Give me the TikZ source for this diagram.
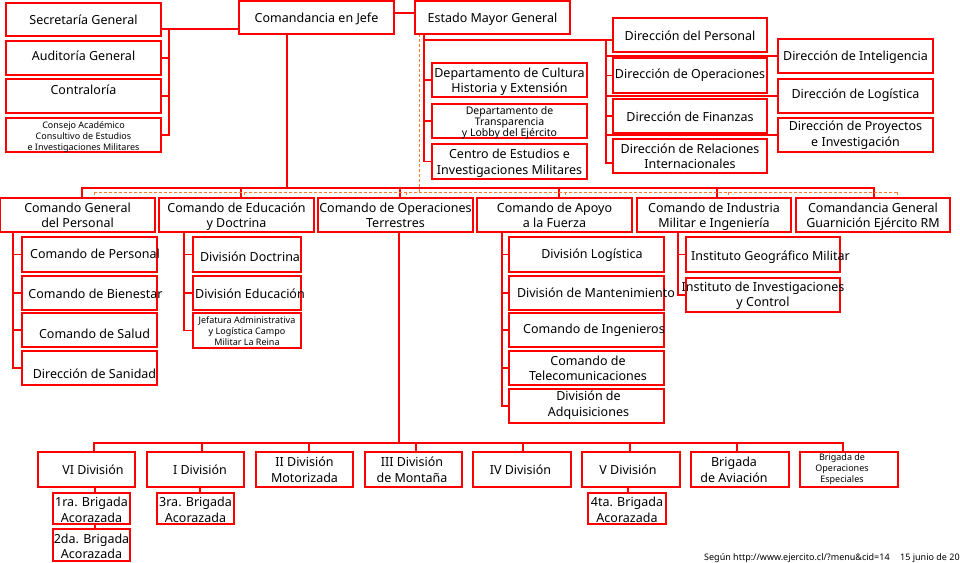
\documentclass[tikz,border=0pt]{standalone}
\usepackage{fontspec}
\setmainfont{Noto Sans}
\definecolor{lnred}{RGB}{255,0,0}
\definecolor{dsor}{RGB}{255,127,42}
\pgfdeclarelayer{bk}\pgfdeclarelayer{ln}\pgfsetlayers{bk,ln,main}
\tikzset{
 box/.style={draw=lnred,line width=1.3pt,fill=white,inner sep=0pt,outer sep=0pt},
 lbl/.style={font=\fontsize{12.5}{15.5}\selectfont,inner sep=0pt,text=black,yshift=-2pt},
 sm/.style={font=\fontsize{9}{11}\selectfont},
 md/.style={font=\fontsize{10.5}{11}\selectfont},
 conn/.style={draw=lnred,line width=1.8pt,line cap=rect},
 dsh/.style={draw=dsor,line width=1pt,dash pattern=on 3pt off 2pt},
 foot/.style={font=\fontsize{9}{11}\selectfont,inner sep=0pt,text=black},
}
\newcommand\bx[9][]{%
  \node[box,minimum width={(#5-#3)*1pt},minimum height={(#6-#4)*1pt},
    label={[lbl,#1,shift={(#7,#8)}]center:{\begin{tabular}{@{}c@{}}#9\end{tabular}}}]
    (#2) at ({(#3+#5)/2},{(#4+#6)/2}) {};}
\begin{document}
\begin{tikzpicture}[x=1pt,y=-1pt]
\begin{pgfonlayer}{bk}\fill[white] (0,0) rectangle (960,562);\end{pgfonlayer}
\useasboundingbox (0,0) rectangle (960,562);
% top
\bx{cjefe}{239}{1}{394}{34}{0}{0}{Comandancia en Jefe}
\bx{emg}{415}{1}{570}{34}{0}{0}{Estado Mayor General}
\bx{sec}{6}{3}{161}{36}{0}{0}{Secretaría General}
\bx{aud}{6}{41}{161}{75}{0}{-3}{Auditoría General}
\bx{con}{6}{79}{161}{113}{0}{-7}{Contraloría}
\bx[sm]{cons}{6}{118}{161}{152}{0}{0}{Consejo Académico\\Consultivo de Estudios\\e Investigaciones Militares}
% departamentos
\bx{cul}{432}{63}{587}{97}{0}{0}{Departamento de Cultura\\Historia y Extensión}
\bx[md]{tra}{432}{104}{587}{138}{0}{0}{Departamento de\\Transparencia\\y Lobby del Ejército}
\bx{cen}{432}{144}{587}{179}{0}{0}{Centro de Estudios e\\Investigaciones Militares}
% direcciones
\bx{dper}{613}{18}{767}{52}{0}{0}{Dirección del Personal}
\bx{dop}{613}{58}{767}{93}{0}{-2}{Dirección de Operaciones}
\bx{dfin}{613}{99}{767}{133}{0}{0}{Dirección de Finanzas}
\bx{drel}{613}{139}{767}{173}{0}{0}{Dirección de Relaciones\\Internacionales}
\bx{dint}{778}{39}{933}{73}{0}{-1}{Dirección de Inteligencia}
\bx{dlgt}{778}{79}{933}{113}{0}{-3}{Dirección de Logística}
\bx{dpro}{778}{118}{933}{152}{0}{-1.5}{Dirección de Proyectos\\e Investigación}
% comandos
\bx{cgp}{0}{198}{155}{232}{0}{0}{Comando General\\del Personal}
\bx{ced}{159}{198}{314}{232}{0}{0}{Comando de Educación\\y Doctrina}
\bx{cot}{318}{198}{473}{232}{0}{0}{Comando de Operaciones\\Terrestres}
\bx{caf}{477}{198}{632}{232}{0}{0}{Comando de Apoyo\\a la Fuerza}
\bx{cim}{637}{198}{791}{232}{0}{0}{Comando de Industria\\Militar e Ingeniería}
\bx{cgg}{796}{198}{950}{232}{0}{0}{Comandancia General\\Guarnición Ejército RM}
% personal
\bx{cper}{22}{237}{157}{272}{5.5}{-1.5}{Comando de Personal}
\bx{cbie}{22}{276}{157}{310}{6}{0}{Comando de Bienestar}
\bx{csal}{22}{313}{157}{347}{5}{3}{Comando de Salud}
\bx{dsan}{22}{351}{157}{385}{5}{5}{Dirección de Sanidad}
% educacion
\bx{ddoc}{193}{237}{301}{272}{3}{1.5}{División Doctrina}
\bx{dedu}{193}{276}{301}{310}{3}{0}{División Educación}
\bx[sm]{jef}{193}{313}{301}{348}{0}{0}{Jefatura Administrativa\\y Logística Campo\\Militar La Reina}
% apoyo
\bx{dlog}{509}{237}{664}{272}{5.5}{-1.5}{División Logística}
\bx{dman}{509}{276}{664}{310}{9.5}{-1}{División de Mantenimiento}
\bx{cing}{509}{313}{664}{347}{7.5}{-2}{Comando de Ingenieros}
\bx{ctel}{509}{351}{664}{385}{1.5}{0}{Comando de\\Telecomunicaciones}
\bx{dadq}{509}{389}{664}{423}{2}{-2.5}{División de\\Adquisiciones}
% industria
\bx{igm}{686}{237}{840}{272}{7.5}{0.5}{Instituto Geográfico Militar}
\bx{iic}{686}{278}{840}{312}{0}{-1}{Instituto de Investigaciones\\y Control}
% divisiones
\bx{d6}{38}{452}{135}{487}{6.5}{0}{VI División}
\bx{d1}{147}{452}{244}{487}{4.5}{0}{I División}
\bx{d2}{256}{452}{353}{487}{0}{0}{II División\\Motorizada}
\bx{d3}{365}{452}{462}{487}{-1.5}{0}{III División\\de Montaña}
\bx{d4}{473}{452}{571}{487}{-1.5}{0}{IV División}
\bx{d5}{582}{452}{680}{487}{-3}{0}{V División}
\bx{dav}{691}{452}{789}{487}{-6}{0}{Brigada\\de Aviación}
\bx[sm]{dope}{800}{452}{898}{487}{-7}{-2}{Brigada de\\Operaciones\\Especiales}
% brigadas
\bx{b1}{53}{493}{130}{524}{0}{1}{1ra. Brigada\\Acorazada}
\bx{b2}{53}{529}{130}{561}{0}{1}{2da. Brigada\\Acorazada}
\bx{b3}{157}{493}{234}{524}{0}{1}{3ra. Brigada\\Acorazada}
\bx{b4}{588}{493}{666}{524}{0}{1}{4ta. Brigada\\Acorazada}
% footer
\node[foot,anchor=base west] (src) at (704,560) {Según http://www.ejercito.cl/?menu\&cid=14};
\node[foot,anchor=base west] (fecha) at (900,560) {15 junio de 20};
% connectors
\begin{pgfonlayer}{ln}
\draw[conn] ([yshift=4.5pt]cjefe.east) -- ([yshift=4.5pt]emg.west);
\coordinate (L) at (169,29);
\draw[conn] (cjefe.west |- L) -- (sec.east |- L);
\draw[conn] (L) -- (cons.east -| L);
\foreach \n in {aud,con,cons} \draw[conn] (\n.east) -- (\n.east -| L);
\coordinate (M) at (287,188);
\draw[conn] (cjefe.south -| M) -- (M);
\coordinate (B1) at (82,188);\coordinate (B2) at (241,188);\coordinate (B3) at (400,188);
\coordinate (B4) at (559,188);\coordinate (B5) at (717,188);\coordinate (B6) at (874,188);
\draw[conn] (B1) -- (B6);
\foreach \c/\n in {B1/cgp,B2/ced,B3/cot,B4/caf,B5/cim,B6/cgg} \draw[conn] (\c) -- (\c |- \n.north);
\coordinate (D0) at (419,192);
\draw[dsh] (emg.south -| D0) -- (D0);
\coordinate (D1) at (94,192);\coordinate (D2) at (244,192);\coordinate (D3) at (406,192);
\coordinate (D4) at (565,192);\coordinate (D5) at (728,192);\coordinate (D6) at (897,192);
\draw[dsh] (D1) -- (D6);
\foreach \c/\n in {D1/cgp,D2/ced,D3/cot,D4/caf,D5/cim,D6/cgg} \draw[dsh] (\c) -- (\c |- \n.north);
% estado mayor
\coordinate (E) at (424,40);
\draw[conn] (emg.south -| E) -- (cen.west -| E);
\draw[conn] (E) -- (dper.west |- E);
\foreach \n in {cul,tra,cen} \draw[conn] (\n.west) -- (\n.west -| E);
\coordinate (F) at (606,40);\coordinate (F2) at (606,163);
\draw[conn] (F) -- (F2);
\draw[conn] (F2) -- (drel.west |- F2);
\foreach \n in {dop,dfin,dint,dlgt,dpro} \draw[conn] (\n.west) -- (\n.west -| F);
% subtrees
\coordinate (G) at (13,0);
\draw[conn] (cgp.south -| G) -- (dsan.west -| G);
\foreach \n in {cper,cbie,csal,dsan} \draw[conn] (\n.west) -- (\n.west -| G);
\coordinate (H) at (184,0);
\draw[conn] (ced.south -| H) -- (jef.west -| H);
\foreach \n in {ddoc,dedu,jef} \draw[conn] (\n.west) -- (\n.west -| H);
\coordinate (P) at (502,0);
\draw[conn] (caf.south -| P) -- (dadq.west -| P);
\foreach \n in {dlog,dman,cing,ctel,dadq} \draw[conn] (\n.west) -- (\n.west -| P);
\coordinate (Q) at (678,0);
\draw[conn] (cim.south -| Q) -- (iic.west -| Q);
\foreach \n in {igm,iic} \draw[conn] (\n.west) -- (\n.west -| Q);
% divisiones
\coordinate (K) at (399,443);
\draw[conn] (cot.south -| K) -- (K);
\coordinate (V1) at (94,443);\coordinate (V2) at (202,443);\coordinate (V3) at (309,443);
\coordinate (V4) at (416,443);\coordinate (V5) at (523,443);\coordinate (V6) at (630,443);
\coordinate (V7) at (737,443);\coordinate (V8) at (843,443);
\draw[conn] (V1) -- (V8);
\foreach \c/\n in {V1/d6,V2/d1,V3/d2,V4/d3,V5/d4,V6/d5,V7/dav,V8/dope} \draw[conn] (\c) -- (\c |- \n.north);
\coordinate (X1) at (95,0);\coordinate (X2) at (200,0);\coordinate (X3) at (628,0);
\draw[conn] (d6.south -| X1) -- (b1.north -| X1);
\draw[conn] (b1.south -| X1) -- (b2.north -| X1);
\draw[conn] (d1.south -| X2) -- (b3.north -| X2);
\draw[conn] (d5.south -| X3) -- (b4.north -| X3);
\end{pgfonlayer}
\end{tikzpicture}
\end{document}
